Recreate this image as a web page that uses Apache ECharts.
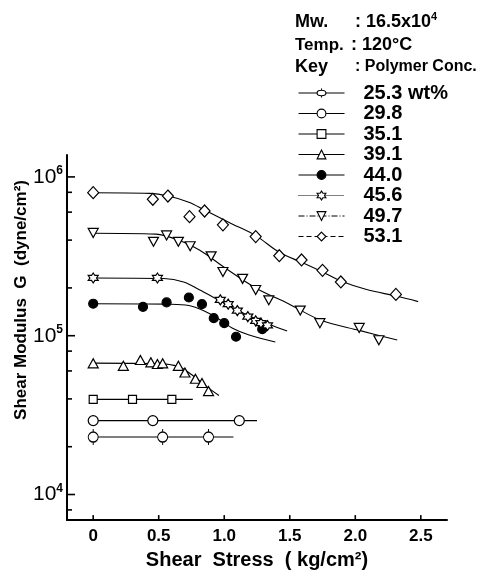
<!DOCTYPE html>
<html>
  <head>
    <meta charset="utf-8" />
    <title>Shear Modulus vs Shear Stress</title>
    <script src="https://cdn.jsdelivr.net/npm/echarts@6/dist/echarts.min.js"></script>
  </head>
  <body style="margin:0">
    <div id="container" style="width: 483px;height: 575px;"></div>
    <script type="text/javascript">
    // polymer concentrations (legend labels)
    var conc = ['25.3 wt%', '29.8', '35.1', '39.1', '44.0', '45.6', '49.7', '53.1'];

    // measured points [shear stress kg/cm2, G dyne/cm2]
    var pts253 = [[0, 2.30e4], [0.53, 2.30e4], [0.88, 2.30e4]];
    var pts298 = [[0, 2.92e4], [0.455, 2.92e4], [1.115, 2.92e4]];
    var pts351 = [[0, 3.97e4], [0.30, 3.97e4], [0.60, 3.97e4]];
    var pts391 = [[0, 6.70e4], [0.23, 6.46e4], [0.36, 7.03e4], [0.44, 6.80e4], [0.49, 6.64e4], [0.53, 6.70e4],
                  [0.65, 6.46e4], [0.70, 5.87e4], [0.78, 5.36e4], [0.83, 5.04e4], [0.88, 4.48e4]];
    var pts440 = [[0, 1.59e5], [0.38, 1.52e5], [0.56, 1.62e5], [0.73, 1.74e5], [0.83, 1.58e5], [0.92, 1.29e5],
                  [1.00, 1.20e5], [1.09, 9.85e4], [1.29, 1.10e5]];
    var pts456 = [[0, 2.31e5], [0.49, 2.31e5], [0.97, 1.68e5], [1.03, 1.58e5], [1.10, 1.44e5], [1.18, 1.32e5],
                  [1.24, 1.24e5], [1.28, 1.20e5], [1.33, 1.16e5]];
    var pts497 = [[0, 4.44e5], [0.46, 3.90e5], [0.56, 4.28e5], [0.65, 3.90e5], [0.74, 3.66e5], [0.90, 3.16e5],
                  [0.99, 2.52e5], [1.14, 2.28e5], [1.24, 1.94e5], [1.34, 1.67e5], [1.58, 1.44e5], [1.73, 1.20e5],
                  [2.03, 1.12e5], [2.18, 9.36e4]];
    var pts531 = [[0, 7.96e5], [0.455, 7.23e5], [0.57, 7.58e5], [0.735, 5.62e5], [0.85, 6.10e5], [0.99, 4.99e5],
                  [1.24, 4.21e5], [1.42, 3.19e5], [1.59, 3.00e5], [1.75, 2.58e5], [1.89, 2.18e5], [2.31, 1.82e5]];

    // fitted curves
    var fit253 = [[0, 2.30e4], [1.07, 2.30e4]];
    var fit298 = [[0, 2.92e4], [1.25, 2.92e4]];
    var fit351 = [[0, 3.97e4], [0.76, 3.97e4]];
    var fit391 = [[0, 6.72e4], [0.50, 6.67e4], [0.65, 6.39e4], [0.75, 5.70e4], [0.86, 4.81e4], [0.96, 4.20e4]];
    var fit440 = [[0, 1.59e5], [0.58, 1.58e5], [0.73, 1.55e5], [0.84, 1.44e5], [0.96, 1.27e5], [1.06, 1.12e5],
                  [1.19, 1.01e5], [1.39, 9.14e4]];
    var fit456 = [[0, 2.31e5], [0.54, 2.29e5], [0.69, 2.18e5], [0.81, 1.95e5], [0.92, 1.74e5], [1.06, 1.50e5],
                  [1.23, 1.29e5], [1.34, 1.18e5], [1.48, 1.07e5]];
    var fit497 = [[0, 4.42e5], [0.48, 4.36e5], [0.65, 4.00e5], [0.81, 3.47e5], [1.01, 2.66e5], [1.24, 2.00e5],
                  [1.49, 1.59e5], [1.74, 1.25e5], [2.03, 1.08e5], [2.32, 9.4e4]];
    var fit531 = [[0, 7.94e5], [0.43, 7.88e5], [0.58, 7.55e5], [0.73, 6.93e5], [0.85, 6.18e5], [1.06, 5.06e5],
                  [1.24, 4.27e5], [1.42, 3.35e5], [1.59, 2.90e5], [1.75, 2.52e5], [1.89, 2.21e5], [2.08, 1.96e5],
                  [2.32, 1.77e5], [2.48, 1.64e5]];

    // axis ticks
    var xTicks = [0, 0.5, 1.0, 1.5, 2.0, 2.5];
    var yMajorTicks = [1e4, 1e5, 1e6];
    var yMinorTicks = [8e3, 2e4, 4e4, 6e4, 8e4, 2e5, 4e5, 6e5, 8e5];

    var X_MIN = -0.2, X_MAX = 2.7, Y_MIN = 6900, Y_MAX = 1.374e6;
    var FONT = '"Liberation Sans", Arial, sans-serif';

    var pipCircle = 'path://M0,8a5,5 0 1,0 10,0a5,5 0 1,0 -10,0zM5,0L5,3M5,13L5,16';
    var hexStar = 'path://M5,0L6.44,2.5L9.33,2.5L7.89,5L9.33,7.5L6.44,7.5L5,10L3.56,7.5L0.67,7.5L2.11,5L0.67,2.5L3.56,2.5Z';

    var groups = [
      { pts: pts253, fit: fit253, symbol: pipCircle, size: [10, 16], fill: '#fff' },
      { pts: pts298, fit: fit298, symbol: 'circle', size: 10, fill: '#fff' },
      { pts: pts351, fit: fit351, symbol: 'rect', size: 8, fill: '#fff' },
      { pts: pts391, fit: fit391, symbol: 'triangle', size: [10, 9], fill: '#fff' },
      { pts: pts440, fit: fit440, symbol: 'circle', size: 9, fill: '#000' },
      { pts: pts456, fit: fit456, symbol: hexStar, size: 10, fill: '#fff' },
      { pts: pts497, fit: fit497, symbol: 'triangle', size: [10, 9], fill: '#fff', rotate: 180 },
      { pts: pts531, fit: fit531, symbol: 'diamond', size: [11, 12], fill: '#fff' }
    ];
    var legendLine = ['solid', 'solid', 'solid', 'solid', 'solid', 'dotted', [6, 2, 1, 2], [5, 3]];

    var series = [];
    groups.forEach(function (g, i) {
      series.push({
        name: conc[i], type: 'line', data: g.fit, smooth: 0.35,
        showSymbol: false, symbol: g.symbol, symbolRotate: g.rotate || 0,
        lineStyle: { color: '#000', width: 1.1 },
        itemStyle: { color: g.fill, borderColor: '#000', borderWidth: 1.2 },
        silent: true, z: 2
      });
    });
    groups.forEach(function (g, i) {
      series.push({
        name: conc[i], type: 'scatter', data: g.pts,
        symbol: g.symbol, symbolSize: g.size, symbolRotate: g.rotate || 0,
        itemStyle: { color: g.fill, borderColor: '#000', borderWidth: 1.2, opacity: 1 },
        silent: true, z: 3
      });
    });

    // inward ticks drawn through the axes
    function tickSeries(data, dx, dy) {
      return {
        type: 'custom', silent: true, clip: false, z: 4,
        data: data,
        renderItem: function (params, api) {
          var p = api.coord([api.value(0), api.value(1)]);
          return { type: 'line', shape: { x1: p[0], y1: p[1], x2: p[0] + dx, y2: p[1] + dy },
                   style: { stroke: '#000', lineWidth: 1.6 } };
        }
      };
    }
    series.push(tickSeries(yMajorTicks.map(function (v) { return [X_MIN, v]; }), 8, 0));
    series.push(tickSeries(yMinorTicks.map(function (v) { return [X_MIN, v]; }), 5, 0));
    series.push(tickSeries(xTicks.map(function (v) { return [v, Y_MIN]; }), 0, -5));

    var myChart = echarts.init(document.getElementById('container'));
    var option = {
      animation: false,
      backgroundColor: '#fff',
      grid: { left: 67, right: 36, top: 155, bottom: 49 },
      xAxis: {
        type: 'value', min: X_MIN, max: X_MAX, interval: 0.1,
        splitLine: { show: false },
        axisTick: { show: false },
        axisLine: { onZero: false, lineStyle: { color: '#000', width: 2 } },
        axisLabel: {
          margin: 8, color: '#000', fontSize: 17, fontWeight: 'bold', fontFamily: FONT,
          formatter: function (v) {
            var ok = xTicks.some(function (t) { return Math.abs(t - v) < 1e-6; });
            if (!ok) return '';
            return v === 0 ? '0' : v.toFixed(1);
          }
        },
        name: 'Shear  Stress  ( kg/cm\u00b2)', nameLocation: 'middle', nameGap: 27,
        nameTextStyle: { color: '#000', fontSize: 20, fontWeight: 'bold', fontFamily: FONT }
      },
      yAxis: {
        type: 'log', logBase: 10, min: Y_MIN, max: Y_MAX,
        splitLine: { show: false },
        axisTick: { show: false },
        axisLine: { onZero: false, lineStyle: { color: '#000', width: 2 } },
        axisLabel: {
          margin: 4, showMinLabel: false, showMaxLabel: false,
          color: '#000', fontFamily: FONT,
          formatter: function (v) {
            var e = Math.log10(v);
            if (Math.abs(e - Math.round(e)) > 1e-6) return '';
            return '{b|10}{s|' + Math.round(e) + '}';
          },
          rich: {
            b: { fontSize: 21, fontFamily: FONT, color: '#000' },
            s: { fontSize: 12, fontWeight: 'bold', fontFamily: FONT, color: '#000', padding: [0, 0, 12, 0] }
          }
        }
      },
      legend: {
        orient: 'vertical', left: 293, top: 78,
        itemWidth: 46, itemHeight: 11, itemGap: 0.5,
        data: conc.map(function (c, i) { return { name: c, lineStyle: { type: legendLine[i] } }; }),
        itemStyle: { borderWidth: 1.1 },
        lineStyle: { width: 1 },
        selectedMode: false,
        textStyle: { color: '#000', fontSize: 20, fontWeight: 'bold', fontFamily: FONT,
                     lineHeight: 20, padding: [0, 0, 0, 14] }
      },
      graphic: [
        { type: 'text', x: 295, y: 22, style: { text: 'Mw.', fontSize: 18, fontWeight: 'bold', fontFamily: FONT, fill: '#000', verticalAlign: 'middle' } },
        { type: 'text', x: 355, y: 22, style: { text: ': 16.5x10{s|4}', fontSize: 18, fontWeight: 'bold', fontFamily: FONT, fill: '#000', verticalAlign: 'middle',
            rich: { s: { fontSize: 11, fontWeight: 'bold', fontFamily: FONT, fill: '#000', padding: [0, 0, 10, 0] } } } },
        { type: 'text', x: 295, y: 45, style: { text: 'Temp.', fontSize: 17, fontWeight: 'bold', fontFamily: FONT, fill: '#000', verticalAlign: 'middle' } },
        { type: 'text', x: 351, y: 45, style: { text: ': 120\u00b0C', fontSize: 18, fontWeight: 'bold', fontFamily: FONT, fill: '#000', verticalAlign: 'middle' } },
        { type: 'text', x: 295, y: 67, style: { text: 'Key', fontSize: 18, fontWeight: 'bold', fontFamily: FONT, fill: '#000', verticalAlign: 'middle' } },
        { type: 'text', x: 355, y: 67, style: { text: ': Polymer Conc.', fontSize: 16, fontWeight: 'bold', fontFamily: FONT, fill: '#000', verticalAlign: 'middle' } },
        { type: 'text', x: 21, y: 300, rotation: Math.PI / 2,
          style: { text: 'Shear Modulus  G  (dyne/cm\u00b2)', fontSize: 17, fontWeight: 'bold', fontFamily: FONT, fill: '#000',
                   align: 'center', verticalAlign: 'middle' } }
      ],
      series: series
    };
    myChart.setOption(option);
    window.addEventListener('resize', myChart.resize);
    </script>
  </body>
</html>
